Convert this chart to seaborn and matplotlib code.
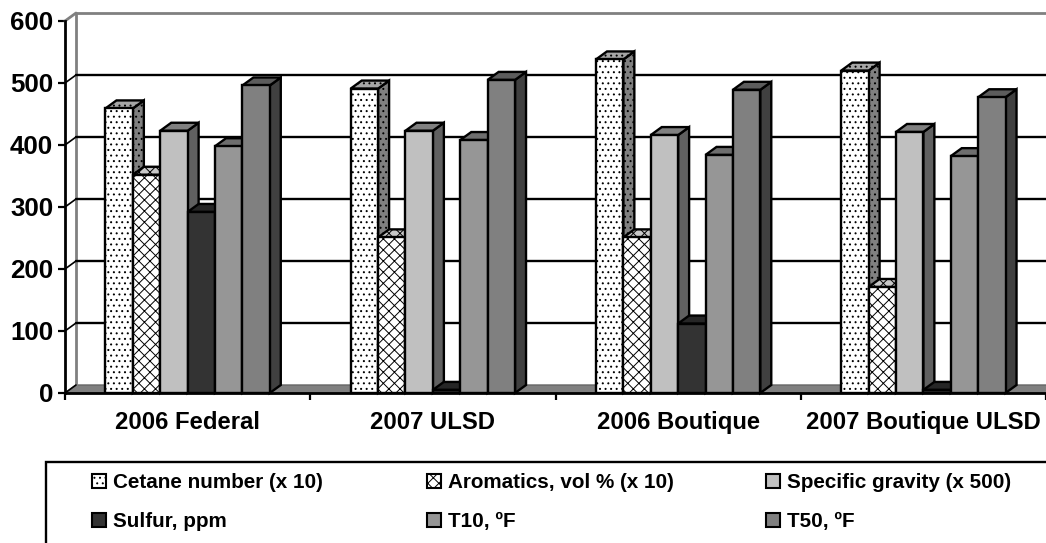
import matplotlib.pyplot as plt
import pandas as pd
import seaborn as sns
from matplotlib.patches import Patch, Polygon, Rectangle

FUELS = ["2006 Federal", "2007 ULSD", "2006 Boutique", "2007 Boutique ULSD"]
PROPERTIES = [
    "Cetane number (x 10)",
    "Aromatics, vol % (x 10)",
    "Specific gravity (x 500)",
    "Sulfur, ppm",
    "T10, ºF",
    "T50, ºF",
]
CETANE = [459, 491, 538, 520]
AROMATICS = [352, 251, 251, 171]
GRAVITY = [423, 423, 416, 421]
SULFUR = [292, 5, 112, 5]
T10 = [398, 408, 384, 382]
T50 = [496, 505, 489, 477]
Y_TICKS = [0, 100, 200, 300, 400, 500, 600]

FRONT = ["#ffffff", "#ffffff", "#c0c0c0", "#333333", "#969696", "#808080"]
TOP = ["#a6a6a6", "#c8c8c8", "#808080", "#262626", "#6e6e6e", "#5c5c5c"]
SIDE = ["#808080", "#808080", "#606060", "#1c1c1c", "#4c4c4c", "#404040"]
HATCH = ["...", "xxx", None, None, None, None]

# oblique offset of the fake 3d, in category and value units
DEPTH_X = 11 / 245.25
DEPTH_Y = 8 / 0.62

sns.set_theme(style="white")
plt.rcParams["font.family"] = ["Liberation Sans", "DejaVu Sans"]
plt.rcParams["font.weight"] = "bold"
plt.rcParams["hatch.linewidth"] = 0.7
plt.rcParams["text.color"] = "black"
plt.rcParams["xtick.labelcolor"] = "black"
plt.rcParams["ytick.labelcolor"] = "black"

table = pd.DataFrame(
    {
        "fuel": FUELS * 6,
        "property": [p for p in PROPERTIES for _ in FUELS],
        "value": CETANE + AROMATICS + GRAVITY + SULFUR + T10 + T50,
    }
)

fig = plt.figure(figsize=(10.46, 5.43), dpi=100)
ax = fig.add_axes([65 / 1046, 1 - 393 / 543, 981 / 1046, 372 / 543])

sns.barplot(
    data=table,
    x="fuel",
    y="value",
    hue="property",
    hue_order=PROPERTIES,
    order=FUELS,
    palette=FRONT,
    saturation=1,
    width=0.67,
    gap=0,
    edgecolor="black",
    linewidth=1.7,
    legend=False,
    zorder=5,
    ax=ax,
)

ax.set_xlim(-0.5, 3.5)
ax.set_ylim(0, 600)

# back wall, floor and gridlines sit one depth step behind the axis plane
x0, x1 = ax.get_xlim()
ax.add_patch(
    Polygon(
        [(x0, 0), (x0 + DEPTH_X, DEPTH_Y), (x1 + DEPTH_X, DEPTH_Y), (x1, 0)],
        facecolor="#808080",
        edgecolor="#666666",
        linewidth=1,
        zorder=1,
    )
)
ax.plot([x0 + DEPTH_X] * 2, [DEPTH_Y, 600 + DEPTH_Y], color="#808080", lw=2, zorder=1, clip_on=False)
ax.plot([x0 + DEPTH_X, x1], [600 + DEPTH_Y] * 2, color="#808080", lw=2, zorder=1, clip_on=False)
ax.plot([x0, x0 + DEPTH_X], [600, 600 + DEPTH_Y], color="#808080", lw=2, zorder=1, clip_on=False)
for tick in Y_TICKS[1:-1]:
    ax.plot([x0 + DEPTH_X, x1], [tick + DEPTH_Y] * 2, color="black", lw=1.7, zorder=1, clip_on=False)
for tick in Y_TICKS[:-1]:
    ax.plot([x0, x0 + DEPTH_X], [tick, tick + DEPTH_Y], color="black", lw=1.2, zorder=1, clip_on=False)

# side and top faces go behind the fronts, left to right
for i, container in enumerate(ax.containers):
    for bar in container:
        left, width, h = bar.get_x(), bar.get_width(), bar.get_height()
        right = left + width
        bar.set_hatch(HATCH[i])
        side = Polygon(
            [(right, 0), (right + DEPTH_X, DEPTH_Y), (right + DEPTH_X, h + DEPTH_Y), (right, h)],
            facecolor=SIDE[i],
            edgecolor="black",
            linewidth=1.7,
            hatch=HATCH[i],
            zorder=2 + bar.get_x() / 10,
            clip_on=False,
        )
        top = Polygon(
            [(left, h), (left + DEPTH_X, h + DEPTH_Y), (right + DEPTH_X, h + DEPTH_Y), (right, h)],
            facecolor=TOP[i],
            edgecolor="black",
            linewidth=1.7,
            hatch=HATCH[i],
            zorder=2 + bar.get_x() / 10,
            clip_on=False,
        )
        ax.add_patch(side)
        ax.add_patch(top)

sns.despine(ax=ax, top=True, right=True)
for name in ["left", "bottom"]:
    ax.spines[name].set_linewidth(2)
    ax.spines[name].set_color("black")
    ax.spines[name].set_zorder(6)

ax.set_xlabel("")
ax.set_ylabel("")
ax.set_yticks(Y_TICKS)
ax.set_xticks(range(len(FUELS)))
ax.set_xticklabels(FUELS)
ax.set_xticks([-0.5, 0.5, 1.5, 2.5, 3.5], minor=True)
ax.tick_params(axis="x", which="major", length=0, pad=13, labelsize=17.2)
ax.tick_params(axis="x", which="minor", bottom=True, length=5, width=1.6, color="black")
ax.tick_params(axis="y", left=True, length=5, width=1.6, color="black", pad=3.5, labelsize=18.6)

# legend box runs off the right and bottom of the page
fig.add_artist(
    Rectangle(
        (46 / 1046, 1 - 600 / 543),
        1100 / 1046,
        138 / 543,
        transform=fig.transFigure,
        facecolor="white",
        edgecolor="black",
        linewidth=1.7,
        clip_on=False,
    )
)
# one legend per column so the three columns land where they do in the original
for col, left_px in enumerate([82, 417, 756]):
    handles = [
        Patch(facecolor=FRONT[i], edgecolor="black", linewidth=1.5, hatch=HATCH[i], label=PROPERTIES[i])
        for i in [col, col + 3]
    ]
    fig.legend(
        handles=handles,
        ncol=1,
        frameon=False,
        loc="upper left",
        bbox_to_anchor=(left_px / 1046, 1 - 463 / 543),
        fontsize=14.9,
        handlelength=0.68,
        handleheight=0.68,
        handletextpad=0.3,
        labelspacing=0.95,
        borderaxespad=0,
        borderpad=0.5,
    )

fig.savefig("out.png", dpi=100)
